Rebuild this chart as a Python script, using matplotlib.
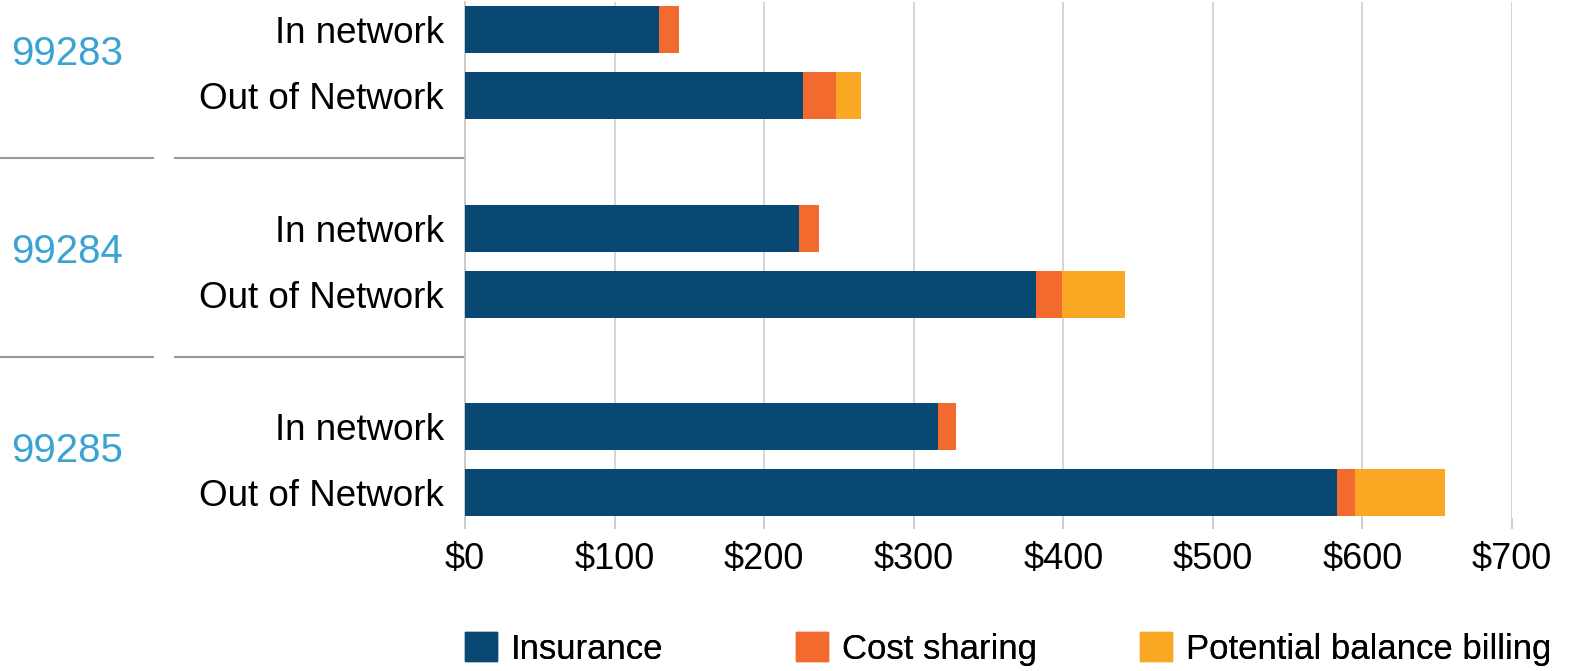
import matplotlib.pyplot as plt
import matplotlib.transforms as mtransforms
from matplotlib.patches import Patch
import numpy as np

plt.rcParams['font.family'] = ['Liberation Sans', 'DejaVu Sans']

codes = ["99283", "99284", "99285"]
rows = ["In network", "Out of Network"]
insurance = [130, 226, 223, 382, 316, 583]
cost_sharing = [13, 22, 14, 17, 12, 12]
balance_billing = [0, 17, 0, 42, 0, 60]
series_names = ["Insurance", "Cost sharing", "Potential balance billing"]
colors = ["#0A4874", "#F26A2E", "#FAA724"]
xticks = [0, 100, 200, 300, 400, 500, 600, 700]

fig = plt.figure(figsize=(15.74, 6.71), dpi=100)
ax = fig.add_axes([465 / 1574, 1 - 518 / 671, (1512 - 465) / 1574, 516 / 671])

# positions: 2 bars per group, one empty slot between groups
ypos = []
for g in range(len(codes)):
    ypos += [g * 3, g * 3 + 1]
ypos = np.array(ypos)

ins = np.array(insurance)
cs = np.array(cost_sharing)
bb = np.array(balance_billing)
h = 0.71
ax.barh(ypos, ins, height=h, color=colors[0], zorder=3)
ax.barh(ypos, cs, left=ins, height=h, color=colors[1], zorder=3)
ax.barh(ypos, bb, left=ins + cs, height=h, color=colors[2], zorder=3)

ax.set_xlim(0, 700)
ax.set_ylim(7.38, -0.42)
ax.set_xticks(xticks)
ax.set_xticklabels(["$%d" % v for v in xticks], fontsize=26)
ax.set_yticks(ypos)
ax.set_yticklabels(rows * len(codes), fontsize=26.5)
ax.tick_params(axis='y', length=0, pad=15)
ax.tick_params(axis='x', length=8, width=1.3, color='#c8c8c8', pad=9)
ax.grid(axis='x', color='#d2d2d2', linewidth=1.3, zorder=0)
ax.set_axisbelow(True)
for s in ['top', 'right', 'bottom']:
    ax.spines[s].set_visible(False)
ax.spines['left'].set_color('#c8c8c8')
ax.spines['left'].set_linewidth(1.3)

# group labels and separators
tr = mtransforms.blended_transform_factory(fig.transFigure, ax.transData)
for g, code in enumerate(codes):
    ax.text(11 / 1574, g * 3 + 0.36, code, transform=tr, fontsize=29,
            color='#3AA3D3', va='center', ha='left')
    if g > 0:
        ysep = g * 3 - 1.06
        ax.plot([0, 153 / 1574], [ysep, ysep], transform=tr, color='#999999',
                lw=1.5, clip_on=False)
        ax.plot([175 / 1574, 465 / 1574], [ysep, ysep], transform=tr,
                color='#999999', lw=1.5, clip_on=False)

# legend entries
leg_x = [465, 796, 1140]
for name, col, lx in zip(series_names, colors, leg_x):
    lg = fig.legend(handles=[Patch(color=col, label=name)], loc='center left',
                    bbox_to_anchor=(lx / 1574, 1 - 649 / 671), frameon=False,
                    fontsize=25, handlelength=0.92, handleheight=0.92,
                    handletextpad=0.4, borderpad=0, borderaxespad=0)
    fig.add_artist(lg)

fig.savefig("out.png", dpi=100)
